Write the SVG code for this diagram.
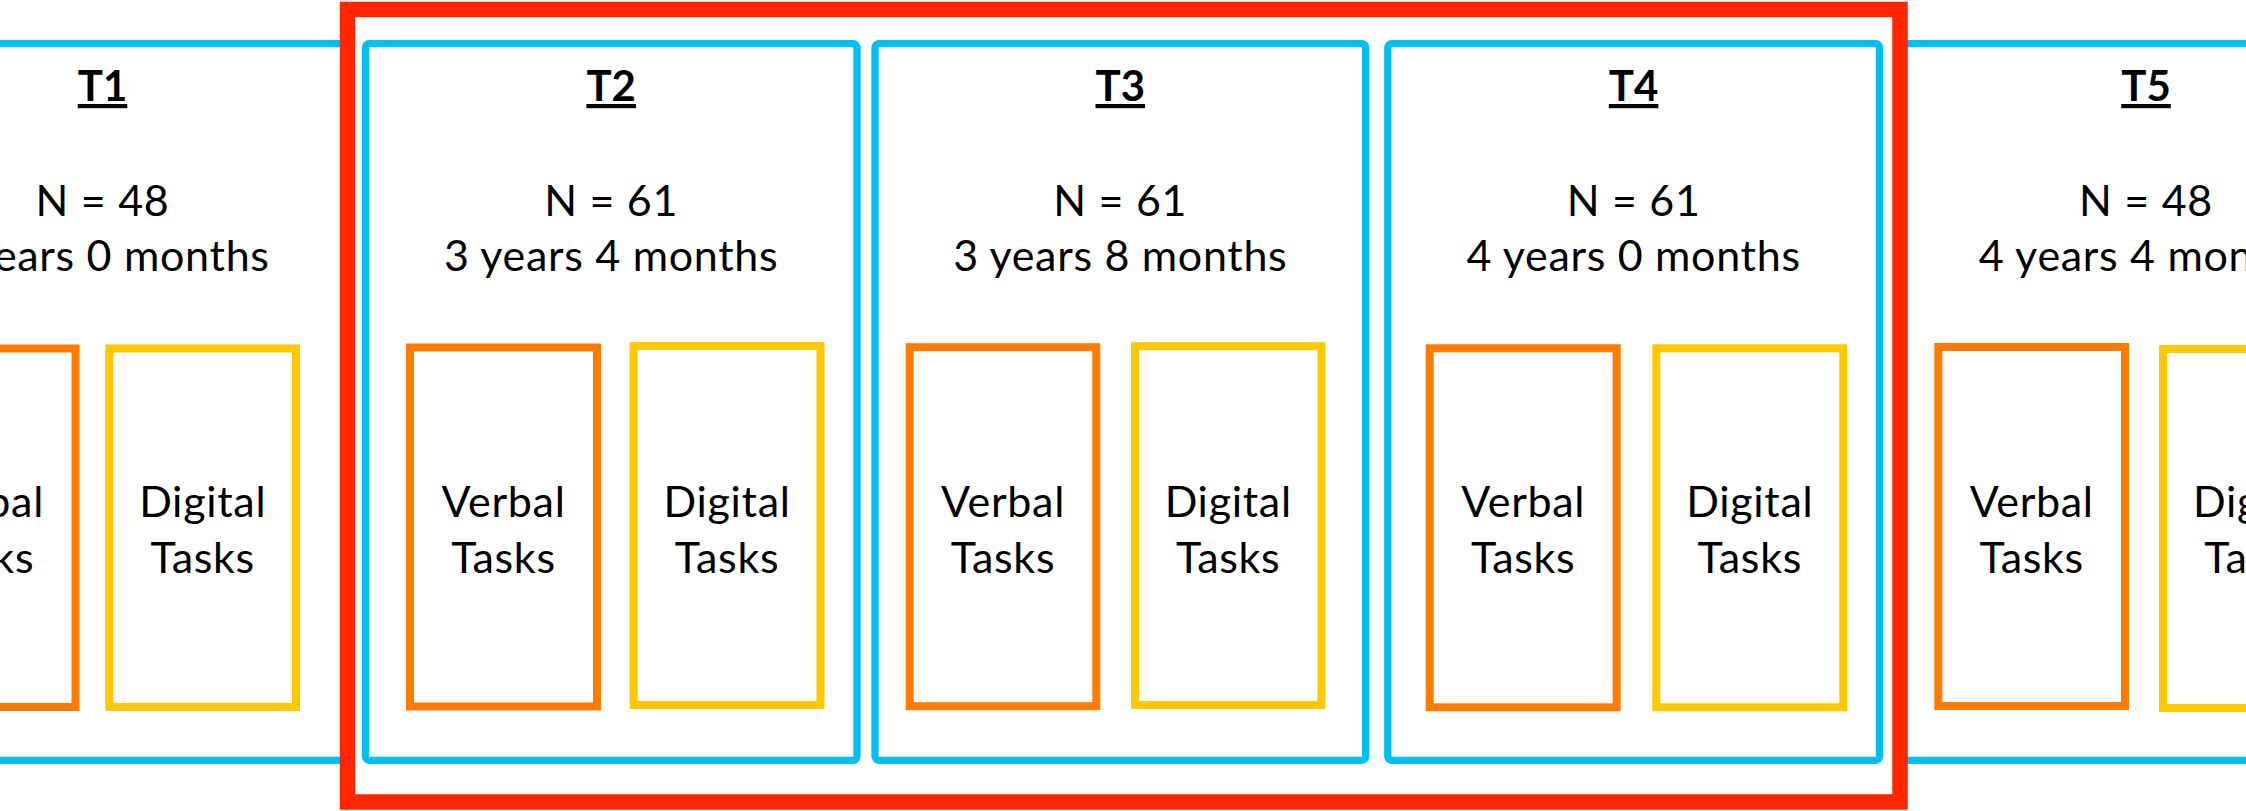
<svg xmlns="http://www.w3.org/2000/svg" width="2246" height="811" viewBox="0 0 2246 811">
<style>
.tp{fill:none;stroke:#00BFF3;stroke-width:7.3}
.vb{fill:none;stroke:#FF7C00;stroke-width:8}
.dg{fill:none;stroke:#FFC800;stroke-width:8}
.fr{fill:none;stroke:#FF2600;stroke-width:15.5}
text{font-family:Lato,"Open Sans","Liberation Sans",sans-serif;font-size:43px;letter-spacing:0.7px;fill:#000;text-anchor:middle}
.ttl{font-size:42px;letter-spacing:0;font-weight:bold;text-decoration:underline}
</style>
<rect width="2246" height="811" fill="#fff"/>
<g id="T1">
<rect class="tp" x="-143" y="43.7" width="491" height="716.6" rx="4"/>
<text class="ttl" x="102.5" y="101">T1</text>
<text x="102.5" y="215.5">N = 48</text>
<text x="102.5" y="271">3 years 0 months</text>
<g id="T1-verbal"><rect class="vb" x="-111.5" y="348.5" width="187" height="358.5"/><text x="-18" y="517">Verbal</text><text x="-18" y="573">Tasks</text></g>
<g id="T1-digital"><rect class="dg" x="109.3" y="348.5" width="186.7" height="358.5"/><text x="202.7" y="517">Digital</text><text x="202.7" y="573">Tasks</text></g>
</g>
<g id="T5">
<rect class="tp" x="1900" y="43.7" width="491.5" height="716.6" rx="4"/>
<text class="ttl" x="2146" y="101">T5</text>
<text x="2146" y="215.5">N = 48</text>
<text x="2146" y="271">4 years 4 months</text>
<g id="T5-verbal"><rect class="vb" x="1938.3" y="347" width="186.7" height="359"/><text x="2031.7" y="517">Verbal</text><text x="2031.7" y="573">Tasks</text></g>
<g id="T5-digital"><rect class="dg" x="2163" y="349" width="187" height="359"/><text x="2256.5" y="517">Digital</text><text x="2256.5" y="573">Tasks</text></g>
</g>
<g id="frame">
<rect class="fr" x="347.5" y="9.5" width="1552.5" height="792.5"/>
</g>
<g id="T2">
<rect class="tp" x="365.5" y="43.7" width="491.5" height="716.6" rx="4"/>
<text class="ttl" x="611.2" y="101">T2</text>
<text x="611.2" y="215.5">N = 61</text>
<text x="611.2" y="271">3 years 4 months</text>
<g id="T2-verbal"><rect class="vb" x="410" y="347.5" width="187" height="359"/><text x="503.5" y="517">Verbal</text><text x="503.5" y="573">Tasks</text></g>
<g id="T2-digital"><rect class="dg" x="633.7" y="346" width="186.8" height="359"/><text x="727.1" y="517">Digital</text><text x="727.1" y="573">Tasks</text></g>
</g>
<g id="T3">
<rect class="tp" x="875" y="43.7" width="490.7" height="716.6" rx="4"/>
<text class="ttl" x="1120.3" y="101">T3</text>
<text x="1120.3" y="215.5">N = 61</text>
<text x="1120.3" y="271">3 years 8 months</text>
<g id="T3-verbal"><rect class="vb" x="909.7" y="347.2" width="186.6" height="359"/><text x="1003" y="517">Verbal</text><text x="1003" y="573">Tasks</text></g>
<g id="T3-digital"><rect class="dg" x="1135" y="346.2" width="186.5" height="358.8"/><text x="1228.2" y="517">Digital</text><text x="1228.2" y="573">Tasks</text></g>
</g>
<g id="T4">
<rect class="tp" x="1387.8" y="43.7" width="491.7" height="716.6" rx="4"/>
<text class="ttl" x="1633.6" y="101">T4</text>
<text x="1633.6" y="215.5">N = 61</text>
<text x="1633.6" y="271">4 years 0 months</text>
<g id="T4-verbal"><rect class="vb" x="1429.7" y="348.3" width="187" height="359"/><text x="1523.2" y="517">Verbal</text><text x="1523.2" y="573">Tasks</text></g>
<g id="T4-digital"><rect class="dg" x="1656.3" y="348.3" width="187" height="359"/><text x="1749.8" y="517">Digital</text><text x="1749.8" y="573">Tasks</text></g>
</g>
<g id="connectors"></g>
</svg>
